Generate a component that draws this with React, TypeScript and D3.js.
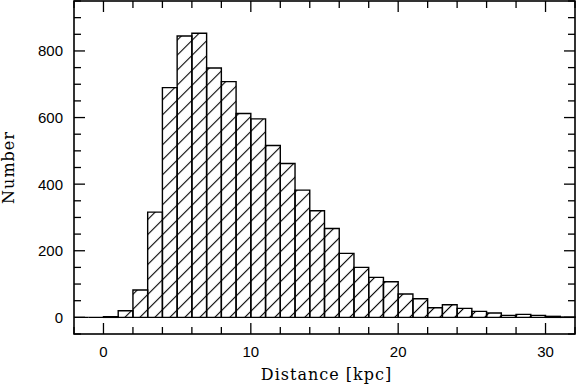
import React from 'react';
import * as d3 from 'd3';

// histogram bins: left edge of each 1 kpc bin and its count
const binStarts = [-2, -1, 0, 1, 2, 3, 4, 5, 6, 7, 8, 9, 10, 11, 12, 13, 14, 15, 16,
  17, 18, 19, 20, 21, 22, 23, 24, 25, 26, 27, 28, 29, 30, 31];
const counts = [0, 0, 2, 20, 82, 316, 690, 845, 853, 749, 708, 612, 596, 516, 462, 382, 320, 267, 192,
  150, 120, 107, 70, 56, 29, 38, 27, 18, 13, 6, 9, 6, 3, 1];
const binWidth = 1;

const xMajor = [0, 10, 20, 30];
const xMinor = d3.range(-2, 33, 2);
const yMajor = [0, 200, 400, 600, 800];
const yMinor = d3.range(-50, 951, 50);

const W = 576;
const H = 384;
const left = 74, right = 575, top = 1, bottom = 334;

const App = () => {
  const x = d3.scaleLinear().domain([-2, 32]).range([left, right]);
  const y = d3.scaleLinear().domain([-50, 950]).range([bottom, top]);

  const majLen = 11, minLen = 7;
  const tickFont = '"Liberation Sans", Arial, sans-serif';
  const titleFont = '"DejaVu Serif", serif';

  // each bin as a closed box path (works for zero-height bins too)
  const binPath = (b: number, c: number) => {
    const p = d3.path();
    p.moveTo(x(b), y(0));
    p.lineTo(x(b), y(c));
    p.lineTo(x(b + binWidth), y(c));
    p.lineTo(x(b + binWidth), y(0));
    p.closePath();
    return p.toString();
  };

  return (
    <svg width={W} height={H} style={{ position: 'absolute', left: 0, top: 0, background: '#fff' }}>
      <defs>
        <pattern id="hatch" patternUnits="userSpaceOnUse" width={10.6} height={10.6}
          patternTransform="rotate(45)">
          <line x1={5.3} y1={0} x2={5.3} y2={10.6} stroke="#000" strokeWidth={1.1} />
        </pattern>
      </defs>

      {binStarts.map((b, i) => (
        <path key={i} d={binPath(b, counts[i])}
          fill="url(#hatch)" stroke="#000" strokeWidth={1.4} />
      ))}

      {/* frame */}
      <rect x={left} y={top} width={right - left} height={bottom - top}
        fill="none" stroke="#000" strokeWidth={1.6} />

      {xMinor.map(v => {
        const len = xMajor.includes(v) ? majLen : minLen;
        return (
          <g key={'x' + v}>
            <line x1={x(v)} x2={x(v)} y1={bottom} y2={bottom - len} stroke="#000" strokeWidth={1.3} />
            <line x1={x(v)} x2={x(v)} y1={top} y2={top + len} stroke="#000" strokeWidth={1.3} />
          </g>
        );
      })}
      {yMinor.map(v => {
        const len = yMajor.includes(v) ? majLen : minLen;
        return (
          <g key={'y' + v}>
            <line x1={left} x2={left + len} y1={y(v)} y2={y(v)} stroke="#000" strokeWidth={1.3} />
            <line x1={right} x2={right - len} y1={y(v)} y2={y(v)} stroke="#000" strokeWidth={1.3} />
          </g>
        );
      })}

      {xMajor.map(v => (
        <text key={'xl' + v} x={x(v)} y={357} textAnchor="middle"
          fontFamily={tickFont} fontSize={15}>{v}</text>
      ))}
      {yMajor.map(v => (
        <text key={'yl' + v} x={63} y={y(v)} dy="0.36em" textAnchor="end"
          fontFamily={tickFont} fontSize={15}>{v}</text>
      ))}

      <text x={(left + right) / 2 + 2} y={380} textAnchor="middle" letterSpacing={1}
        fontFamily={titleFont} fontSize={16}>Distance [kpc]</text>
      <text transform={`translate(14,${(top + bottom) / 2}) rotate(-90)`} textAnchor="middle"
        letterSpacing={1} fontFamily={titleFont} fontSize={16}>Number</text>
    </svg>
  );
};

export default App;
